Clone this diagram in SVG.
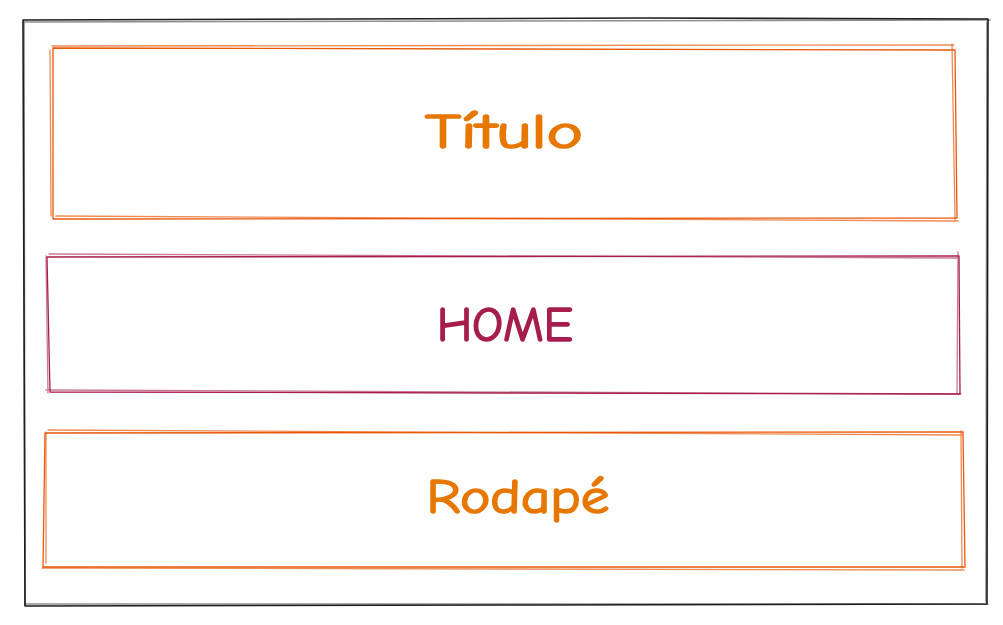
<svg xmlns="http://www.w3.org/2000/svg" width="1003" height="625" viewBox="0 0 1003 625">
<style>
.s{fill:none;stroke-linecap:round;stroke-linejoin:round}
.k{stroke:#1e1e1e;stroke-width:1.6}
.o{stroke:#e8590c;stroke-width:1.3}
.m{stroke:#a61e4d;stroke-width:1.3}
.t{font-family:"Comic Neue","Liberation Sans",sans-serif;font-size:48px;text-anchor:middle;stroke-width:1.6;stroke-linejoin:round}
.to{fill:#e67700;stroke:#e67700}
.tm{fill:#a61e4d;stroke:#a61e4d}
</style>
<rect width="1003" height="625" fill="#ffffff"/>
<g id="frame">
<path class="s k" d="M23 20 L645 18 L988 19 L987 604 L540 605 L25 606 Z"/>
<path class="s k" d="M24 22 L990 20 M987 22 L986 602 M988 604 L26 604 M25 605 L24 21" opacity="0.5"/>
</g>
<g id="titulo">
<path class="s o" d="M53 48 L955 50 L957 218 L53 219 Z"/>
<path class="s o" d="M50 50 L51 216 M52 46 L954 45 M952 44 L955 220 M958 221 L56 216" opacity="0.7"/>
<text class="t to" x="504" y="148" textLength="158" lengthAdjust="spacingAndGlyphs">Título</text>
</g>
<g id="home">
<path class="s m" d="M47 257 L959 256 L960 394 L50 392 Z"/>
<path class="s m" d="M49 254 L957 258 M958 252 L957 393 M961 394 L46 390 M46 256 L48 393" opacity="0.6"/>
<text class="t tm" x="505" y="341" textLength="136" lengthAdjust="spacingAndGlyphs">HOME</text>
</g>
<g id="rodape">
<path class="s o" d="M45 433 L963 432 L965 567 L43 567 Z"/>
<path class="s o" d="M48 430 L962 435 M961 431 L962 568 M964 570 L42 568 M46 432 L46 563" opacity="0.7"/>
<text class="t to" x="518" y="513" textLength="183" lengthAdjust="spacingAndGlyphs">Rodapé</text>
</g>
<g id="connectors"/>
</svg>
